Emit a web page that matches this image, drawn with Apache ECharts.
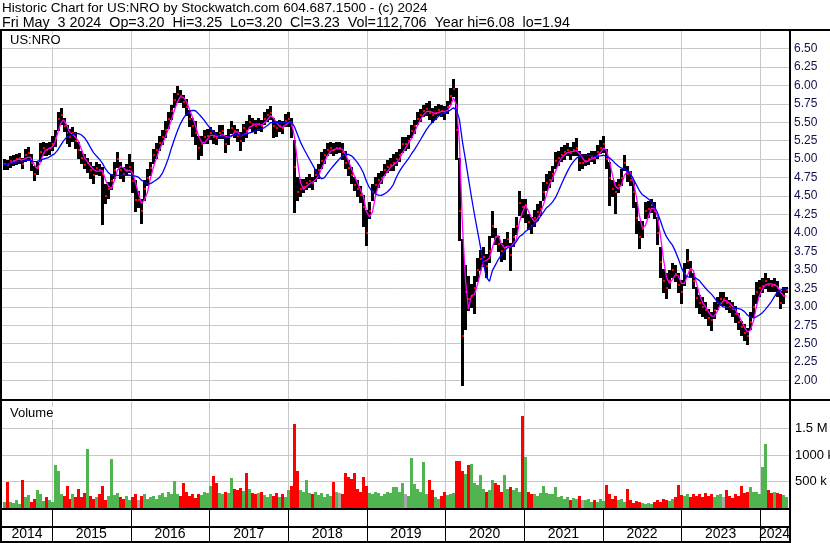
<!DOCTYPE html>
<html><head><meta charset="utf-8">
<script src="https://cdn.jsdelivr.net/npm/echarts@6/dist/echarts.min.js"></script>
<style>html,body{margin:0;padding:0;background:#fff}#c{width:830px;height:543px}</style>
</head><body><div id="c"></div>
<script>
// ---------- data ----------
const HEADER_1 = 'Historic Chart for US:NRO by Stockwatch.com 604.687.1500 - (c) 2024';
const HEADER_2 = 'Fri May  3 2024  Op=3.20  Hi=3.25  Lo=3.20  Cl=3.23  Vol=112,706  Year hi=6.08  lo=1.94';
const SYMBOL = 'US:NRO';
const FIRST_DATE = '2014-05-21';
const LAST_DATE = '2024-05-03';
const AXIS_MIN = '2014-05-14';
const AXIS_MAX = '2024-05-15';
const YEARS = ['2014','2015','2016','2017','2018','2019','2020','2021','2022','2023','2024'];
const VOL_LABELS = {500:'500 k', 1000:'1000 k', 1500:'1.5 M'};
const MA_FAST = 3;   // periods of the bi-weekly points (magenta)
const MA_SLOW = 10;  // (blue)

const close = [
4.93,4.92,4.97,4.98,5.00,5.02,4.94,5.05,5.08,4.95,
4.80,4.88,5.10,5.15,5.12,5.15,5.20,5.28,5.55,5.60,
5.45,5.35,5.30,5.35,5.25,5.12,5.02,4.92,4.95,4.85,
4.78,4.88,4.85,4.80,4.50,4.60,4.70,4.85,5.00,4.85,
4.80,4.85,4.90,4.70,4.45,4.45,4.30,4.60,4.75,4.88,
5.05,5.12,5.22,5.30,5.40,5.55,5.65,5.80,5.88,5.85,
5.78,5.70,5.55,5.45,5.35,5.15,5.20,5.30,5.32,5.35,
5.30,5.28,5.35,5.38,5.20,5.30,5.42,5.38,5.32,5.25,
5.42,5.38,5.50,5.48,5.45,5.48,5.45,5.55,5.60,5.62,
5.45,5.42,5.45,5.42,5.52,5.55,5.45,4.90,4.55,4.60,
4.62,4.68,4.70,4.68,4.78,4.85,4.98,5.05,5.12,5.15,
5.12,5.15,5.15,5.10,4.95,4.88,4.78,4.65,4.60,4.52,
4.35,4.00,4.30,4.55,4.65,4.72,4.75,4.85,4.90,4.92,
4.95,5.00,5.05,5.20,5.20,5.25,5.38,5.45,5.55,5.60,
5.65,5.68,5.62,5.60,5.62,5.67,5.65,5.62,5.70,5.85,
5.95,5.40,4.30,2.60,3.20,3.10,3.15,3.25,3.50,3.65,
3.68,3.55,3.75,4.10,3.95,3.85,3.75,3.80,3.92,3.70,
3.95,4.10,4.40,4.35,4.38,4.15,4.10,4.20,4.28,4.32,
4.55,4.68,4.72,4.80,4.98,5.02,5.05,5.10,5.12,5.08,
5.12,5.15,4.95,4.95,4.98,5.00,5.03,5.02,5.10,5.15,
5.20,5.00,4.75,4.60,4.55,4.65,4.75,4.95,4.80,4.72,
4.55,4.20,3.95,4.05,4.30,4.32,4.38,4.30,4.00,3.60,
3.35,3.25,3.35,3.50,3.45,3.30,3.20,3.45,3.62,3.50,
3.35,3.12,3.05,3.00,2.95,2.85,2.82,2.95,3.05,3.10,
3.10,3.05,3.00,2.97,2.90,2.80,2.72,2.65,2.60,2.80,
3.00,3.20,3.25,3.28,3.35,3.30,3.28,3.30,3.25,3.05,3.15,3.23];

const high = [
4.99,4.98,5.03,5.04,5.06,5.07,5.00,5.12,5.15,5.05,
4.90,4.95,5.20,5.22,5.20,5.22,5.30,5.38,5.62,5.68,
5.55,5.45,5.40,5.42,5.35,5.22,5.10,5.05,5.00,4.95,
4.90,4.95,4.92,4.88,4.65,4.68,4.78,4.95,5.08,4.95,
4.88,4.92,5.05,4.95,4.70,4.55,4.45,4.70,4.85,4.95,
5.12,5.20,5.30,5.38,5.50,5.62,5.72,5.88,5.98,5.92,
5.85,5.80,5.65,5.55,5.50,5.30,5.30,5.38,5.40,5.42,
5.38,5.35,5.45,5.45,5.32,5.40,5.50,5.45,5.40,5.35,
5.46,5.50,5.58,5.55,5.52,5.55,5.52,5.62,5.67,5.70,
5.55,5.50,5.52,5.50,5.60,5.62,5.55,5.25,4.75,4.72,
4.72,4.75,4.78,4.75,4.85,4.92,5.08,5.12,5.20,5.22,
5.20,5.22,5.22,5.20,5.10,4.98,4.88,4.75,4.70,4.62,
4.50,4.30,4.40,4.65,4.75,4.80,4.82,4.92,4.97,5.00,
5.05,5.08,5.12,5.28,5.28,5.32,5.45,5.52,5.62,5.67,
5.72,5.75,5.78,5.68,5.70,5.73,5.72,5.70,5.78,5.95,
6.07,5.95,5.00,3.90,3.55,3.40,3.30,3.40,3.65,3.75,
3.80,3.70,3.95,4.29,4.05,3.95,3.85,3.90,4.00,3.85,
4.05,4.20,4.56,4.45,4.45,4.25,4.20,4.30,4.38,4.42,
4.68,4.78,4.82,4.90,5.08,5.10,5.15,5.18,5.20,5.15,
5.22,5.27,5.10,5.05,5.05,5.07,5.10,5.10,5.18,5.25,
5.30,5.12,4.95,4.70,4.68,4.72,4.85,5.04,4.90,4.82,
4.70,4.40,4.15,4.15,4.40,4.42,4.45,4.40,4.20,3.80,
3.50,3.45,3.48,3.58,3.55,3.45,3.35,3.58,3.77,3.60,
3.45,3.25,3.15,3.12,3.05,2.95,2.92,3.05,3.12,3.18,
3.18,3.12,3.08,3.05,3.00,2.90,2.80,2.75,2.70,2.92,
3.15,3.32,3.35,3.38,3.45,3.38,3.35,3.37,3.33,3.20,3.25,3.25];

const low = [
4.87,4.86,4.90,4.92,4.94,4.95,4.88,4.97,5.00,4.85,
4.72,4.80,4.98,5.06,5.05,5.07,5.12,5.18,5.40,5.48,
5.38,5.22,5.18,5.25,5.15,5.02,4.95,4.88,4.82,4.75,
4.68,4.80,4.78,4.12,4.40,4.48,4.60,4.75,4.90,4.75,
4.70,4.78,4.82,4.55,4.30,4.35,4.14,4.45,4.65,4.78,
4.95,5.02,5.12,5.20,5.30,5.42,5.55,5.70,5.78,5.78,
5.70,5.60,5.45,5.32,5.20,5.00,5.05,5.22,5.22,5.27,
5.22,5.20,5.28,5.28,5.10,5.20,5.35,5.30,5.25,5.12,
5.25,5.30,5.42,5.38,5.35,5.40,5.38,5.48,5.52,5.55,
5.30,5.32,5.38,5.35,5.45,5.45,5.30,4.29,4.45,4.50,
4.55,4.60,4.62,4.60,4.70,4.75,4.88,4.95,5.05,5.08,
5.05,5.08,5.10,5.00,4.88,4.78,4.68,4.58,4.50,4.42,
4.10,3.84,4.20,4.45,4.55,4.62,4.68,4.78,4.82,4.85,
4.85,4.92,4.97,5.10,5.12,5.15,5.30,5.35,5.48,5.52,
5.58,5.60,5.55,5.50,5.55,5.60,5.58,5.55,5.62,5.75,
5.85,5.00,3.90,1.94,2.70,2.95,3.00,2.92,3.35,3.50,
3.55,3.40,3.60,3.95,3.85,3.75,3.62,3.65,3.82,3.50,
3.82,3.98,4.25,4.22,4.15,4.05,4.00,4.10,4.18,4.25,
4.45,4.58,4.62,4.70,4.88,4.92,4.97,5.00,5.05,5.00,
5.05,5.05,4.85,4.88,4.92,4.93,4.97,4.95,5.02,5.08,
5.10,4.88,4.38,4.50,4.27,4.55,4.65,4.85,4.70,4.65,
4.35,4.00,3.80,3.95,4.20,4.22,4.28,4.20,3.85,3.40,
3.20,3.12,3.25,3.40,3.35,3.20,3.05,3.30,3.52,3.40,
3.25,3.00,2.92,2.88,2.85,2.75,2.69,2.85,2.97,3.03,
3.02,2.97,2.93,2.88,2.80,2.70,2.62,2.55,2.50,2.70,
2.88,3.05,3.15,3.20,3.25,3.22,3.22,3.22,3.15,2.98,3.05,3.20];

// volume in thousands of shares
const volume = [
111,497,122,100,155,78,530,200,244,122,
178,343,255,133,200,155,111,806,707,255,
222,420,178,266,211,365,200,288,1115,233,
166,200,266,409,144,222,917,244,288,200,
166,233,144,200,266,144,222,255,166,200,
233,178,244,277,211,310,255,508,266,222,
475,310,233,266,189,266,244,310,288,409,
597,475,288,255,310,288,564,365,343,376,
321,652,354,288,255,288,310,244,200,266,
222,288,200,255,211,343,420,1578,707,343,
310,519,288,255,310,244,277,200,255,233,
486,310,277,255,652,586,553,663,365,310,
580,409,288,255,310,288,222,266,310,277,
398,387,310,475,255,233,939,453,365,310,
861,266,530,332,200,178,222,310,244,266,
277,883,894,696,641,806,839,475,442,630,
365,310,332,530,475,442,310,630,365,398,
332,376,310,1733,961,310,266,255,222,288,
420,288,266,255,398,200,233,178,200,155,
189,166,222,155,144,178,122,144,111,166,
133,442,255,178,222,144,166,122,365,155,
100,133,111,89,78,100,67,111,144,122,
166,155,133,178,200,442,244,222,255,200,
266,233,255,200,288,233,266,211,244,255,
200,343,222,189,266,233,420,288,310,398,
299,310,255,773,1214,343,288,310,277,266,244,200];

// ---------- derived ----------
const t0 = Date.parse(FIRST_DATE), t1 = Date.parse(LAST_DATE);
const dates = close.map((_, i) => t0 + (t1 - t0) * i / (close.length - 1));
function sma(arr, p) {
  return arr.map((_, i) => {
    const s = Math.max(0, i - p + 1);
    let sum = 0; for (let k = s; k <= i; k++) sum += arr[k];
    return sum / (i - s + 1);
  });
}
const maFast = sma(close, MA_FAST);
const maSlow = sma(close, MA_SLOW);
const xMin = Date.parse(AXIS_MIN), xMax = Date.parse(AXIS_MAX);
const YEAR_STARTS = YEARS.slice(1).map(y => Date.parse(y + '-01-01'));
function yearMid(y) {
  const s = Math.max(Date.parse(y + '-01-01'), xMin);
  const e = Math.min(Date.parse((+y + 1) + '-01-01'), xMax);
  return (s + e) / 2;
}
function volColor(i) {
  if (i === 0 || close[i] > close[i - 1]) return '#50b450';
  if (close[i] < close[i - 1]) return '#ff0000';
  return '#a8a8a8';
}

const FONT = '"Liberation Sans", Arial, sans-serif';
const GRID_COLOR = '#c8c8c8';

function yearLines(gi, y0, y1, color) {
  return {
    type: 'custom', xAxisIndex: gi, yAxisIndex: gi, z: 1, silent: true,
    data: YEAR_STARTS.map(t => [t, y0]),
    encode: {x: 0, y: 1},
    renderItem: (p, api) => {
      const a = api.coord([api.value(0), y0]);
      const b = api.coord([api.value(0), y1]);
      const x = Math.round(a[0]) + 0.5;
      return {type: 'line', shape: {x1: x, y1: a[1], x2: x, y2: b[1]}, style: {stroke: color, lineWidth: 1}};
    }
  };
}
const xAx = gi => ({type: 'time', gridIndex: gi, min: xMin, max: xMax, show: false});
const gridBase = {outerBoundsMode: 'none', containLabel: false};

const chart = echarts.init(document.getElementById('c'), null, {renderer: 'canvas', width: 830, height: 543});
chart.setOption({
  animation: false,
  backgroundColor: '#ffffff',
  grid: [
    Object.assign({left: 2, top: 30, width: 787, height: 369}, gridBase),
    Object.assign({left: 2, top: 402, width: 787, height: 106}, gridBase),
    Object.assign({left: 2, top: 510, width: 787, height: 32}, gridBase)
  ],
  xAxis: [xAx(0), xAx(1), xAx(2)],
  yAxis: [
    {type: 'value', gridIndex: 0, position: 'right', min: 1.75, max: 6.75, interval: 0.25,
     axisLine: {show: false}, axisTick: {show: false},
     axisLabel: {color: '#10104a', fontSize: 12, fontFamily: FONT, margin: 5,
       formatter: v => (v < 1.9 || v > 6.6) ? '' : v.toFixed(2)},
     splitLine: {show: true, lineStyle: {color: GRID_COLOR, width: 1}}},
    {type: 'value', gridIndex: 1, position: 'right', min: 0, max: 2000, interval: 500,
     axisLine: {show: false}, axisTick: {show: false},
     axisLabel: {color: '#000', fontSize: 13, fontFamily: FONT, margin: 6,
       formatter: v => VOL_LABELS[v] || ''},
     splitLine: {show: true, showMinLine: false, showMaxLine: false, lineStyle: {color: GRID_COLOR, width: 1}}},
    {type: 'value', gridIndex: 2, min: 0, max: 1, show: false}
  ],
  series: [
    yearLines(0, 1.75, 6.75, GRID_COLOR),
    yearLines(1, 0, 2000, GRID_COLOR),
    yearLines(2, 0, 1, '#000'),
    {
      type: 'custom', xAxisIndex: 0, yAxisIndex: 0, z: 2, silent: true,
      data: dates.map((t, i) => [t, low[i], high[i], close[i]]),
      encode: {x: 0, y: [1, 2, 3]},
      renderItem: (p, api) => {
        const t = api.value(0);
        const lo = api.coord([t, api.value(1)]);
        const hi = api.coord([t, api.value(2)]);
        const cl = api.coord([t, api.value(3)]);
        const x = Math.round(lo[0]) - 1;
        const yh = Math.round(hi[1]), yl = Math.round(lo[1]);
        return {type: 'group', children: [
          {type: 'rect', shape: {x: x, y: yh - 1, width: 3, height: Math.max(1, yl - yh) + 2}, style: {fill: '#000'}},
          {type: 'rect', shape: {x: x + 1, y: Math.round(cl[1]) - 1, width: 2, height: 2}, style: {fill: '#ff0000'}}
        ]};
      }
    },
    {type: 'line', xAxisIndex: 0, yAxisIndex: 0, z: 3, silent: true, showSymbol: false,
     data: dates.map((t, i) => [t, maFast[i]]), lineStyle: {color: '#ff00ff', width: 1.3}},
    {type: 'line', xAxisIndex: 0, yAxisIndex: 0, z: 4, silent: true, showSymbol: false,
     data: dates.map((t, i) => [t, maSlow[i]]), lineStyle: {color: '#0000ff', width: 1.3}},
    {
      type: 'custom', xAxisIndex: 1, yAxisIndex: 1, z: 2, silent: true,
      data: dates.map((t, i) => [t, volume[i]]),
      encode: {x: 0, y: 1},
      renderItem: (p, api) => {
        const top = api.coord([api.value(0), api.value(1)]);
        const base = api.coord([api.value(0), 0]);
        const x = Math.round(top[0]) - 1;
        const yt = Math.round(top[1]);
        return {type: 'rect', shape: {x: x, y: yt, width: 3, height: Math.max(1, Math.round(base[1]) - yt)},
          style: {fill: volColor(p.dataIndex)}};
      }
    },
    {
      type: 'custom', xAxisIndex: 2, yAxisIndex: 2, z: 5, silent: true,
      data: YEARS.map(y => [yearMid(y), 0.25]),
      encode: {x: 0, y: 1},
      renderItem: (p, api) => {
        const pt = api.coord([api.value(0), api.value(1)]);
        return {type: 'text', x: pt[0], y: pt[1],
          style: {text: YEARS[p.dataIndex], fill: '#000', fontSize: 14, fontFamily: FONT, align: 'center', verticalAlign: 'middle'}};
      }
    }
  ],
  graphic: [
    {type: 'text', left: 2, top: 1, z: 100, style: {text: HEADER_1, fontSize: 13.5, fontFamily: FONT, fill: '#000'}},
    {type: 'text', left: 2, top: 16, z: 100, style: {text: HEADER_2, fontSize: 14.3, fontFamily: FONT, fill: '#000'}},
    {type: 'text', left: 8, top: 34, z: 100, style: {text: SYMBOL, fontSize: 13, fontFamily: FONT, fill: '#000', backgroundColor: '#fff', padding: [0, 2]}},
    {type: 'text', left: 8, top: 407, z: 100, style: {text: 'Volume', fontSize: 13, fontFamily: FONT, fill: '#000', backgroundColor: '#fff', padding: [0, 2]}},
    {type: 'rect', z: 100, shape: {x: 0, y: 29, width: 830, height: 2}, style: {fill: '#000'}},
    {type: 'rect', z: 100, shape: {x: 0, y: 29, width: 2, height: 514}, style: {fill: '#000'}},
    {type: 'rect', z: 100, shape: {x: 789, y: 29, width: 2, height: 514}, style: {fill: '#000'}},
    {type: 'rect', z: 100, shape: {x: 0, y: 399, width: 830, height: 2}, style: {fill: '#000'}},
    {type: 'rect', z: 100, shape: {x: 0, y: 508, width: 791, height: 2}, style: {fill: '#000'}},
    {type: 'rect', z: 100, shape: {x: 0, y: 526, width: 791, height: 2}, style: {fill: '#000'}},
    {type: 'rect', z: 100, shape: {x: 0, y: 541, width: 791, height: 2}, style: {fill: '#000'}}
  ]
});
</script>
</body></html>
